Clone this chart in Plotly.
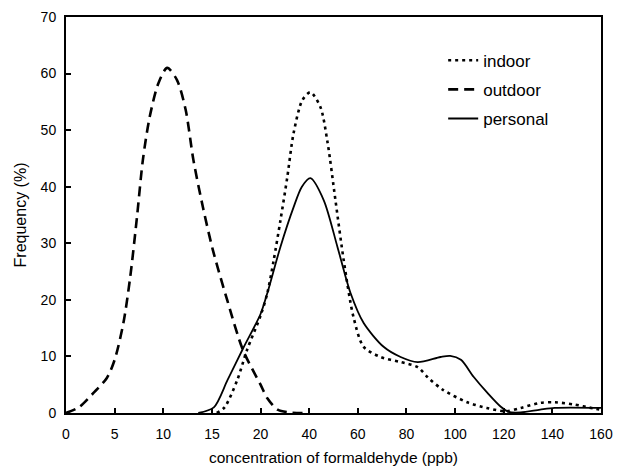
import numpy as np
import plotly.graph_objects as go

# Axis categories (non-linear x axis: equally spaced tick labels)
tick_values = [0, 5, 10, 15, 20, 40, 60, 80, 100, 120, 140, 160]
tick_labels = [str(v) for v in tick_values]

# Series (ppb, frequency %)
indoor_x = [15.5, 16.3, 17.6, 18.6, 20, 22.8, 25.4, 28.2, 31, 33.6, 37.2, 40.5, 44.6, 47.6,
            50.8, 54.2, 58.2, 62.4, 69.4, 77.6, 84.6, 89, 95, 105, 113, 121, 127, 135, 141,
            149, 157, 160]
indoor_y = [0, 1.0, 5.8, 11.1, 17.2, 21.2, 27, 34.1, 41.7, 49.5, 55.3, 56.7, 54.1, 47.7,
            37.6, 27, 17, 11.7, 9.9, 9.0, 8.1, 6.2, 4.1, 1.9, 0.9, 0.3, 0.9, 1.8, 1.9,
            1.5, 0.8, 0.6]

outdoor_x = [0, 1.4, 2.8, 4.2, 5.0, 5.9, 6.6, 7.3, 7.9, 8.6, 9.5, 10.4, 11.4, 12.3, 13.1,
             14.1, 15.1, 16.6, 18.2, 20, 22.8, 27, 32, 40]
outdoor_y = [0, 1.1, 3.5, 6.2, 9.4, 15.9, 24, 34.7, 44.7, 52.3, 58.3, 61, 58.9, 53.6, 44.7,
             36.2, 28.8, 19.8, 11.1, 5.0, 2.6, 0.6, 0.1, 0]

personal_x = [13.6, 15.2, 16.6, 18.2, 20, 22.8, 28.2, 33.6, 37, 40.5, 46, 51.6, 57, 62.4,
              70.6, 77.6, 84.6, 94, 98, 102.4, 107.6, 113.4, 118.8, 122, 127, 135, 141, 160]
personal_y = [0, 1.0, 5.8, 11.4, 17.5, 21.2, 29.4, 36.4, 40, 41.5, 37.6, 29.4, 21.2, 15.9,
              11.7, 9.9, 9.0, 9.9, 10.1, 9.4, 6.4, 3.5, 1.1, 0.2, 0.1, 0.6, 0.9, 0.9]

positions = list(range(len(tick_values)))


def to_pos(xs):
    return np.interp(xs, tick_values, positions)


fig = go.Figure()
series = [
    ("indoor", indoor_x, indoor_y, dict(color="black", width=2.6, dash="3px,4px")),
    ("outdoor", outdoor_x, outdoor_y, dict(color="black", width=2.6, dash="10px,6px")),
    ("personal", personal_x, personal_y, dict(color="black", width=1.8)),
]
for name, xs, ys, line in series:
    fig.add_trace(go.Scatter(
        x=to_pos(xs), y=ys, mode="lines", name=name, legendgroup=name,
        line=dict(shape="spline", smoothing=0.8, **line),
    ))

font_family = "Liberation Sans, Arial, sans-serif"
fig.update_layout(
    width=627, height=471,
    margin=dict(l=66, r=26, t=17, b=58),
    paper_bgcolor="white", plot_bgcolor="white",
    font=dict(family=font_family, color="black", size=14),
    showlegend=True,
    legend=dict(x=0.705, y=0.935, xanchor="left", yanchor="top",
                bgcolor="rgba(0,0,0,0)", font=dict(size=17),
                traceorder="grouped", tracegroupgap=4),
    xaxis=dict(
        range=[0, 11], tickvals=positions, ticktext=tick_labels, automargin=False,
        showgrid=False, zeroline=False, showline=True, linecolor="black", linewidth=2,
        mirror=True, ticks="inside", ticklen=5, tickcolor="black", tickwidth=1.5,
        tickfont=dict(size=14), ticklabelstandoff=7,
        title=dict(text="concentration of formaldehyde (ppb)", font=dict(size=15.5), standoff=11),
    ),
    yaxis=dict(
        range=[0, 70], dtick=10, automargin=False,
        showgrid=False, zeroline=False, showline=True, linecolor="black", linewidth=2,
        mirror=True, ticks="inside", ticklen=5, tickcolor="black", tickwidth=1.5,
        tickfont=dict(size=14), ticklabelstandoff=5,
        title=dict(text="Frequency (%)", font=dict(size=16), standoff=10),
    ),
)

fig.write_html("out.html")
